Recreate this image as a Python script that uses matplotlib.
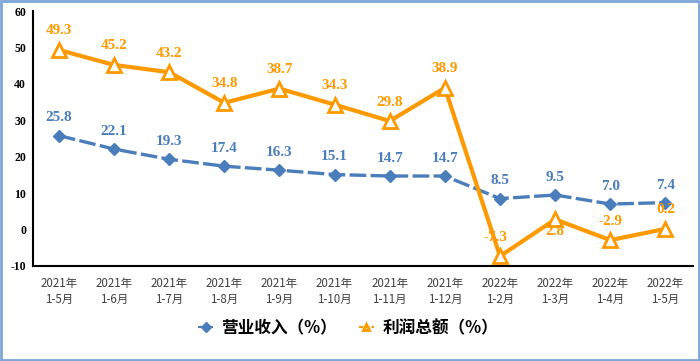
import numpy as np
import matplotlib
matplotlib.use("Agg")
import matplotlib.pyplot as plt
from matplotlib.patches import Rectangle

plt.rcParams['font.family'] = ['Noto Sans CJK SC', 'DejaVu Sans']

# data
periods = ["2021年\n1-5月", "2021年\n1-6月", "2021年\n1-7月", "2021年\n1-8月",
           "2021年\n1-9月", "2021年\n1-10月", "2021年\n1-11月", "2021年\n1-12月",
           "2022年\n1-2月", "2022年\n1-3月", "2022年\n1-4月", "2022年\n1-5月"]
revenue = [25.8, 22.1, 19.3, 17.4, 16.3, 15.1, 14.7, 14.7, 8.5, 9.5, 7.0, 7.4]
profit = [49.3, 45.2, 43.2, 34.8, 38.7, 34.3, 29.8, 38.9, -7.3, 2.8, -2.9, 0.2]
rev_name = "营业收入（%）"
prof_name = "利润总额（%）"

BLUE = "#4A7EBB"
ORANGE = "#FF9900"
SERIF = "Liberation Serif"

fig = plt.figure(figsize=(7, 3.61), dpi=100)
ax = fig.add_axes([33 / 700, 1 - 266 / 361, (693 - 33) / 700, (266 - 11) / 361])

x = np.arange(len(periods))
ax.plot(x, revenue, color=BLUE, lw=2.4, ls=(0, (5, 1.3)), marker="D", ms=6,
        mfc=BLUE, mec=BLUE, label=rev_name, zorder=3)
ax.plot(x, profit, color=ORANGE, lw=3, marker="^", ms=10, mfc="white",
        mec=ORANGE, mew=2, label=prof_name, zorder=4)

for i, v in enumerate(revenue):
    ax.annotate(f"{v:.1f}", (i, v), xytext=(0, 8), textcoords="offset points",
                ha="center", va="bottom", color=BLUE, fontsize=11,
                fontweight="bold", family=SERIF, zorder=5)
for i, v in enumerate(profit):
    dy, va, dx = 9, "bottom", 0
    if v == 2.8:
        dy, va = -4, "top"
    if v == -7.3:
        dx = -3
    ax.annotate(f"{v:.1f}", (i, v), xytext=(dx, dy), textcoords="offset points",
                ha="center", va=va, color=ORANGE, fontsize=11,
                fontweight="bold", family=SERIF, zorder=5)

ax.set_xlim(-0.47, 11.5)
ax.set_ylim(-10, 60)
ax.set_yticks(range(-10, 61, 10))
ax.set_yticklabels([str(t) for t in range(-10, 61, 10)], family=SERIF,
                   fontweight="bold", fontsize=8.5)
ax.set_xticks(x)
ax.set_xticklabels(periods, fontsize=8.3, color="#404040", linespacing=1.25)
ax.tick_params(axis="both", length=0)
ax.tick_params(axis="x", pad=8)
ax.tick_params(axis="y", pad=5)
for s in ["top", "right"]:
    ax.spines[s].set_visible(False)
for s in ["left", "bottom"]:
    ax.spines[s].set_color("black")
    ax.spines[s].set_linewidth(1.5)

leg = fig.legend(loc="center", bbox_to_anchor=(348 / 700, 1 - 328 / 361), ncol=2,
                 frameon=False, handlelength=0.9, handletextpad=0.5,
                 columnspacing=1.3, prop={"weight": "bold", "size": 12})
for h in leg.legend_handles:
    h.set_markersize(5)
    h.set_linewidth(1.5)
    h.set_linestyle((0, (2, 1)))

# light blue frame around the picture
fig.patches.append(Rectangle((0.0015, 0.003), 0.997, 0.994, transform=fig.transFigure,
                             fill=False, ec="#7CA6D8", lw=2))

fig.savefig("out.png", dpi=100)
